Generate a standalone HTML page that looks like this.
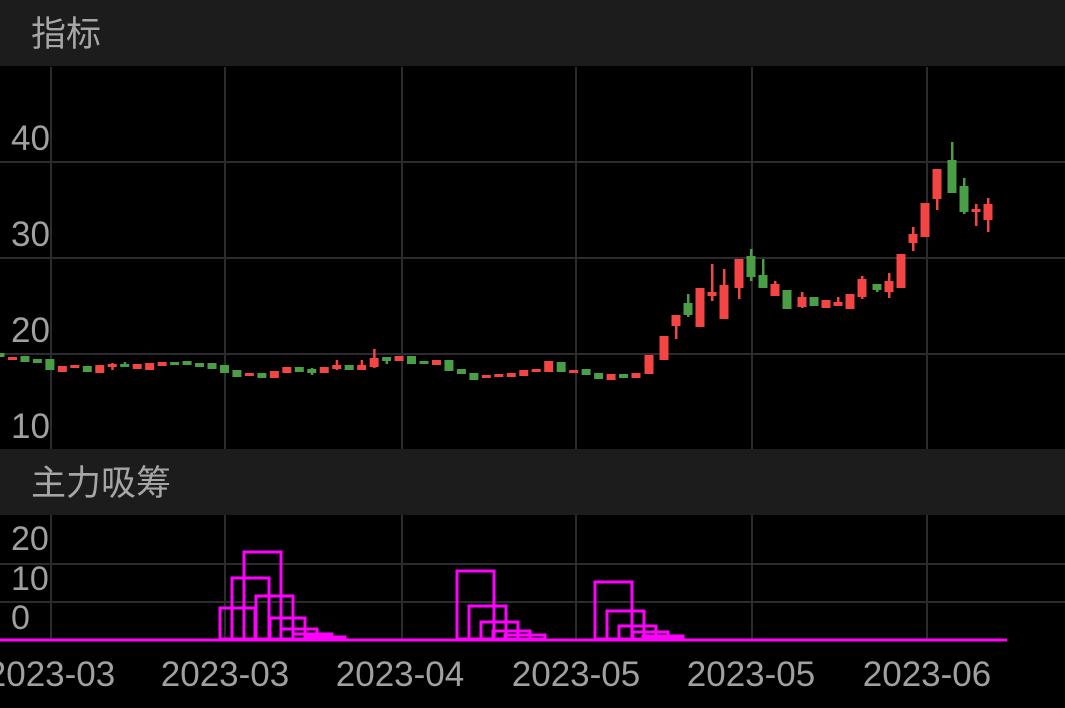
<!DOCTYPE html>
<html><head><meta charset="utf-8"><style>
html,body{margin:0;padding:0;background:#000;width:1065px;height:708px;overflow:hidden}
</style></head><body>
<svg width="1065" height="708" xmlns="http://www.w3.org/2000/svg" style="display:block">
<rect width="1065" height="708" fill="#000"/>
<rect x="0" y="0" width="1065" height="66" fill="#1c1c1c"/>
<rect x="0" y="449" width="1065" height="66" fill="#1c1c1c"/>
<g font-family="'Liberation Sans','Noto Sans CJK SC',sans-serif" fill="#a6a6a6">
<text x="31" y="46" font-size="35">指标</text>
<text x="31" y="495" font-size="35">主力吸筹</text>
</g>
<g stroke="#2c2c30" stroke-width="2">
<line x1="51" y1="67" x2="51" y2="449"/><line x1="225" y1="67" x2="225" y2="449"/>
<line x1="402" y1="67" x2="402" y2="449"/><line x1="576" y1="67" x2="576" y2="449"/>
<line x1="752" y1="67" x2="752" y2="449"/><line x1="927" y1="67" x2="927" y2="449"/>
<line x1="0" y1="162" x2="1065" y2="162"/><line x1="0" y1="258" x2="1065" y2="258"/>
<line x1="0" y1="354" x2="1065" y2="354"/>
<line x1="51" y1="515" x2="51" y2="641"/><line x1="225" y1="515" x2="225" y2="641"/>
<line x1="402" y1="515" x2="402" y2="641"/><line x1="576" y1="515" x2="576" y2="641"/>
<line x1="752" y1="515" x2="752" y2="641"/><line x1="927" y1="515" x2="927" y2="641"/>
<line x1="0" y1="564" x2="1065" y2="564"/><line x1="0" y1="602" x2="1065" y2="602"/>
</g>
<g id="candles"></g>
<g font-family="'Liberation Sans',sans-serif" fill="#a0a0a0" font-size="35">
<text x="11" y="150">40</text><text x="11" y="246">30</text><text x="11" y="342">20</text><text x="11" y="438">10</text>
<text x="11" y="550" font-size="34">20</text><text x="11" y="590" font-size="34">10</text><text x="11" y="629" font-size="34">0</text>
</g>
<g fill="none" stroke="#ff00ff" stroke-width="3">
<rect x="220" y="608" width="35" height="31"/>
<rect x="232" y="578" width="37" height="61"/>
<rect x="244" y="552" width="37" height="87"/>
<rect x="256" y="596" width="37" height="43"/>
<rect x="270" y="618" width="35" height="21"/>
<rect x="281" y="629" width="36" height="10"/>
<rect x="293" y="634" width="39" height="5"/>
<rect x="305" y="637" width="40" height="2"/>
<rect x="457" y="571" width="37" height="68"/>
<rect x="469" y="606" width="37" height="33"/>
<rect x="481" y="622" width="37" height="17"/>
<rect x="493" y="631" width="37" height="8"/>
<rect x="505" y="635" width="40" height="4"/>
<rect x="595" y="582" width="37" height="57"/>
<rect x="607" y="611" width="37" height="28"/>
<rect x="619" y="626" width="37" height="13"/>
<rect x="633" y="632" width="35" height="7"/>
<rect x="643" y="636" width="40" height="3"/>
</g>
<line x1="0" y1="640" x2="1007" y2="640" stroke="#ff00ff" stroke-width="3"/>
<g font-family="'Liberation Sans',sans-serif" fill="#a0a0a0" font-size="35" text-anchor="middle">
<text x="51" y="686">2023-03</text><text x="225" y="686">2023-03</text>
<text x="400" y="686">2023-04</text><text x="576" y="686">2023-05</text>
<text x="751" y="686">2023-05</text><text x="927" y="686">2023-06</text>
</g>
</svg>
<script>
var R="#f44545",G="#4a9e45";
var a=[[353,357,G],[357,360,R],[356,362,G],[359,363,G],[359,370,G],[366,372,R],[365,368,R],[366,372,G],[365,373,R],[364,367,R,363,370],[364,367,G,362,367],[364,369,R],[363,370,R],[362,366,R],[362,365,G],[361,365,G],[363,367,G],[363,369,G],[365,373,G],[370,377,G],[373,376,R],[373,378,G],[371,378,R],[367,373,R],[367,372,G],[369,373,G,368,375],[367,373,R],[365,369,R,360,370],[365,370,G],[365,370,R,360,370],[358,367,R,349,368],[357,361,G,357,364],[356,361,R],[356,364,G],[361,363,G],[360,365,R],[360,371,G],[369,374,G],[373,380,G],[375,378,R],[374,377,R],[373,377,R],[370,376,R],[369,372,R],[361,372,R],[362,372,G],[370,373,R],[369,375,G],[373,379,G],[374,380,R],[374,378,G],[373,378,R]];
var b=[[649,355,374,R],[664,336,360,R],[676,315,326,R,315,339],[688,303,315,G,294,317],[700,288,327,R],[712,292,296,R,264,301],[724,285,319,R,269,319],[739,259,288,R,259,299],[751,256,277,G,249,281],[763,275,288,G,259,288],[775,284,296,R,281,296],[787,290,309,G],[802,297,307,R,292,308],[814,297,306,G],[826,300,308,R],[838,302,306,R,297,306],[850,294,309,R],[862,279,297,R,276,299],[877,284,290,G,284,292],[889,281,292,R,273,298],[901,254,288,R],[913,234,243,R,227,251],[925,203,237,R],[937,169,199,R,169,210],[952,160,193,G,142,193],[964,186,212,G,178,214],[976,209,212,R,204,226],[988,204,220,R,198,232]];
var s="";
function c(x,t,bt,col,wt,wb){
 if(wt!==undefined)s+='<rect x="'+(x-1)+'" y="'+wt+'" width="2.5" height="'+(wb-wt)+'" fill="'+col+'"/>';
 s+='<rect x="'+(x-4.5)+'" y="'+t+'" width="9" height="'+Math.max(bt-t,3)+'" fill="'+col+'"/>';
}
var n=a.length, sp=636/(n-1);
a.forEach(function(d,i){c(i*sp,d[0],d[1],d[2],d[3],d[4]);});
b.forEach(function(d){c(d[0],d[1],d[2],d[3],d[4],d[5]);});
document.getElementById("candles").innerHTML=s;
</script>
</body></html>
